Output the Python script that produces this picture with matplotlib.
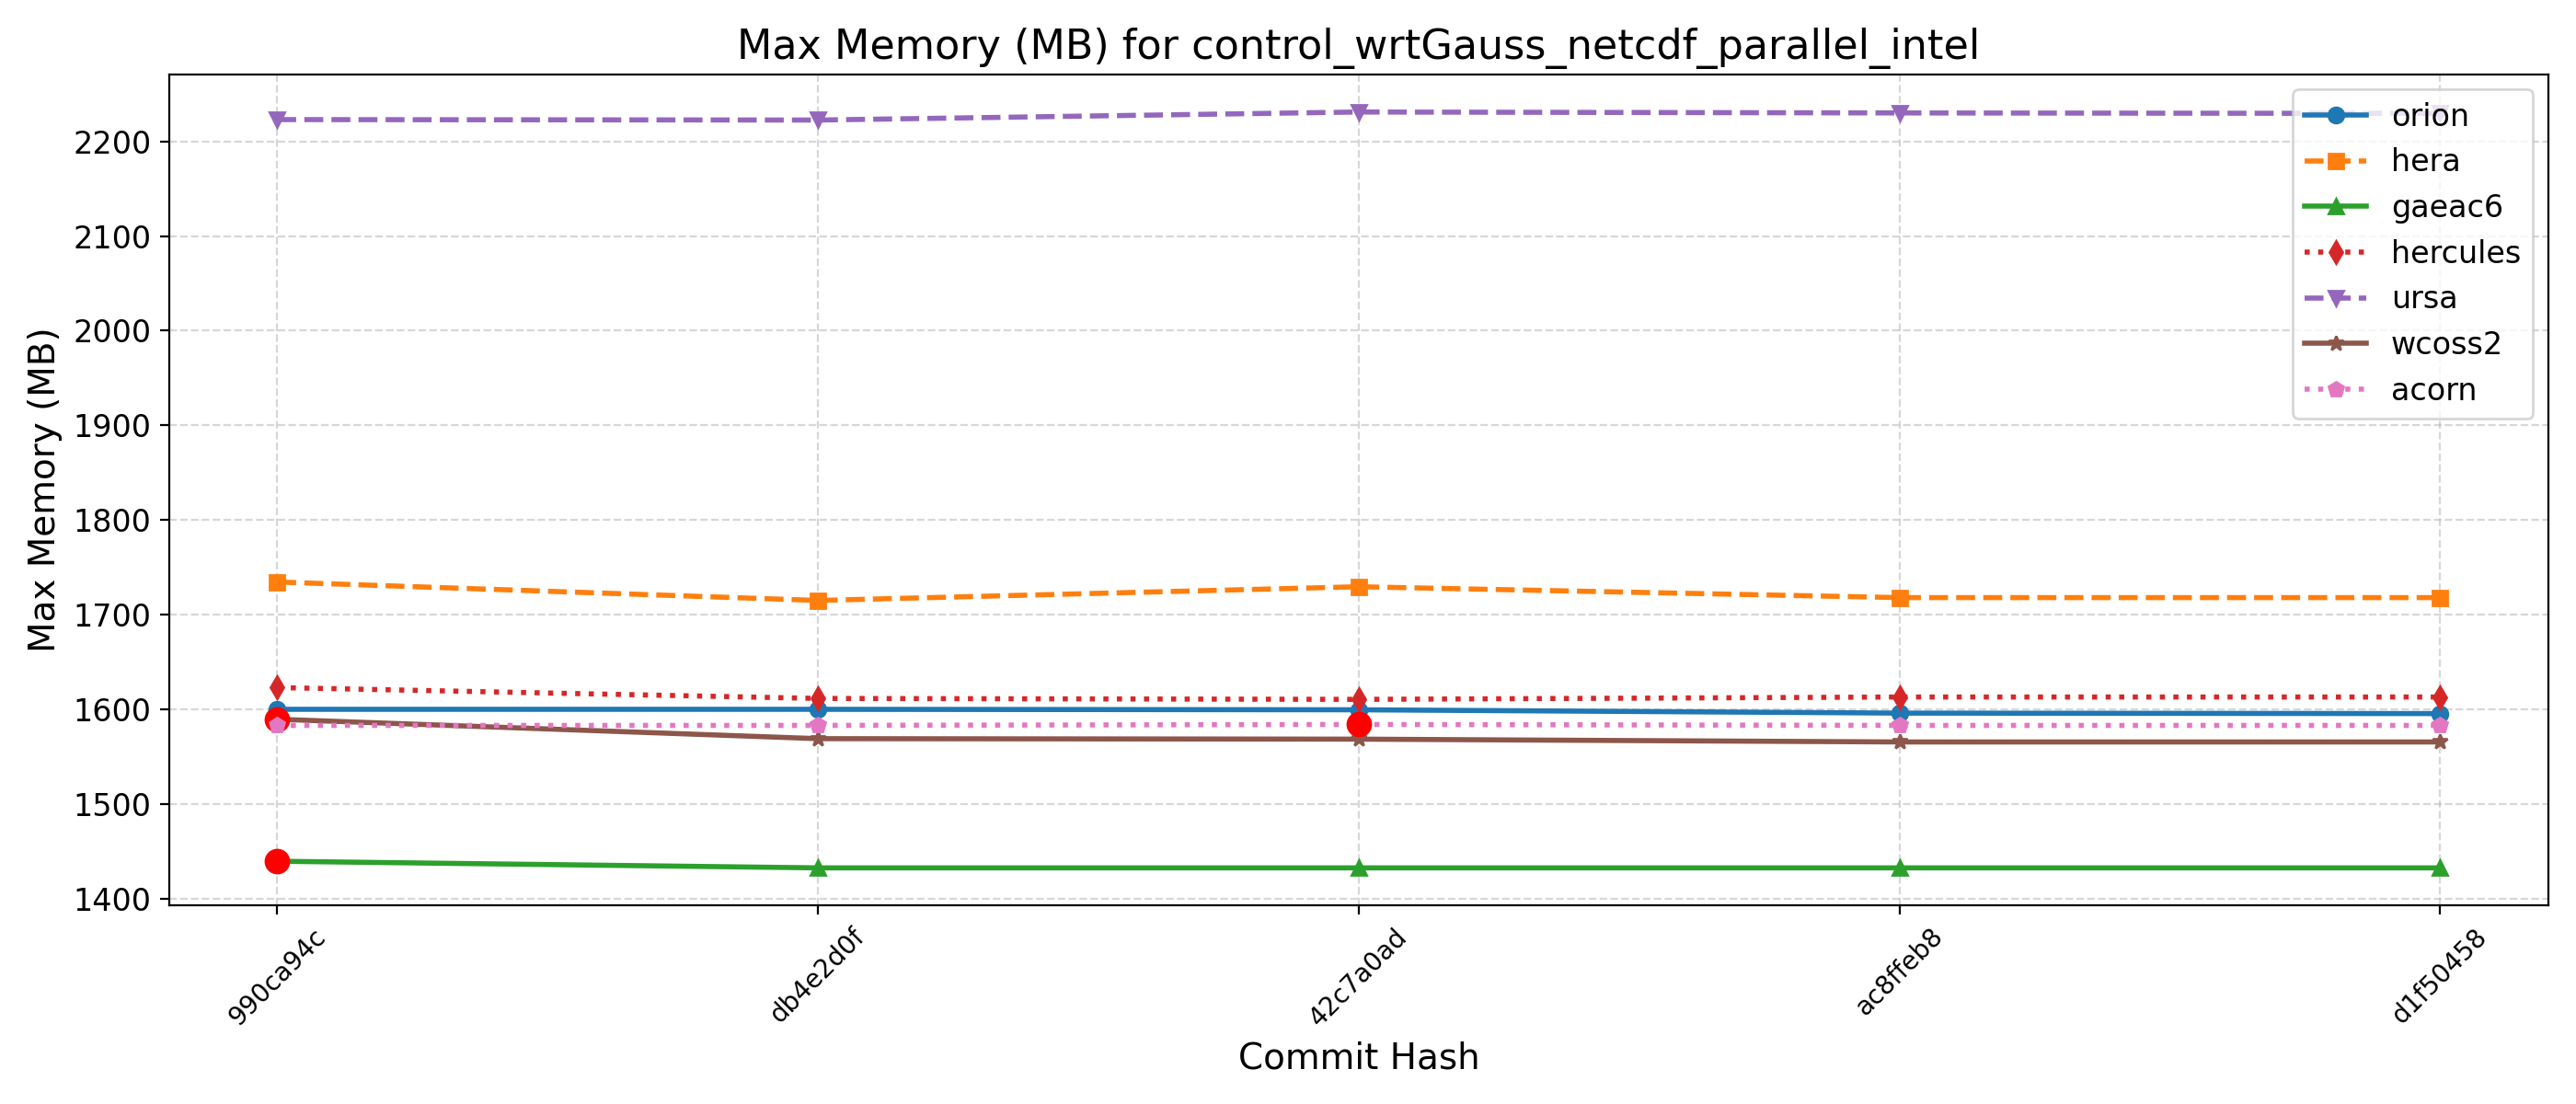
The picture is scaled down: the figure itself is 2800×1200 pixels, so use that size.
import numpy as np
import matplotlib
matplotlib.use("Agg")
import matplotlib.pyplot as plt

# Commit hashes on the x axis
commits = ["990ca94c", "db4e2d0f", "42c7a0ad", "ac8ffeb8", "d1f50458"]

# Max memory (MB) per machine
orion = [1600, 1600, 1599.5, 1596, 1595.5]
hera = [1734.5, 1715, 1729.5, 1718, 1718]
gaeac6 = [1439.5, 1432.5, 1432.5, 1432.5, 1432.5]
hercules = [1623, 1611.5, 1610.5, 1613, 1613]
ursa = [2223, 2222.5, 2231, 2230, 2229.5]
wcoss2 = [1589.5, 1569, 1568.5, 1565.5, 1565.5]
acorn = [1583, 1583, 1584, 1583, 1583]

# indices of flagged points for each machine
flagged = {
    "gaeac6": [0],
    "wcoss2": [0],
    "acorn": [2],
}

machines = ["orion", "hera", "gaeac6", "hercules", "ursa", "wcoss2", "acorn"]
values = [orion, hera, gaeac6, hercules, ursa, wcoss2, acorn]
styles = ["-", "--", "-", ":", "--", "-", ":"]
markers = ["o", "s", "^", "d", "v", "*", "p"]

fig, ax = plt.subplots(figsize=(14, 6), dpi=200)
x = np.arange(len(commits))

for name, vals, ls, mk in zip(machines, values, styles, markers):
    ax.plot(x, vals, linestyle=ls, marker=mk, linewidth=2, markersize=6, label=name)
    idx = flagged.get(name, [])
    if idx:
        ax.plot(x[idx], np.array(vals)[idx], "o", color="red", markersize=9)

ax.set_xticks(x)
ax.set_xticklabels(commits, rotation=45, fontsize=10)
ax.tick_params(axis="y", labelsize=12)
ax.set_xlabel("Commit Hash", fontsize=14)
ax.set_ylabel("Max Memory (MB)", fontsize=14)
ax.set_title("Max Memory (MB) for control_wrtGauss_netcdf_parallel_intel", fontsize=16)
ax.grid(True, linestyle="--", alpha=0.5)
ax.legend(loc="upper right", fontsize=12)

plt.tight_layout()
fig.savefig("out.png", dpi=200)
